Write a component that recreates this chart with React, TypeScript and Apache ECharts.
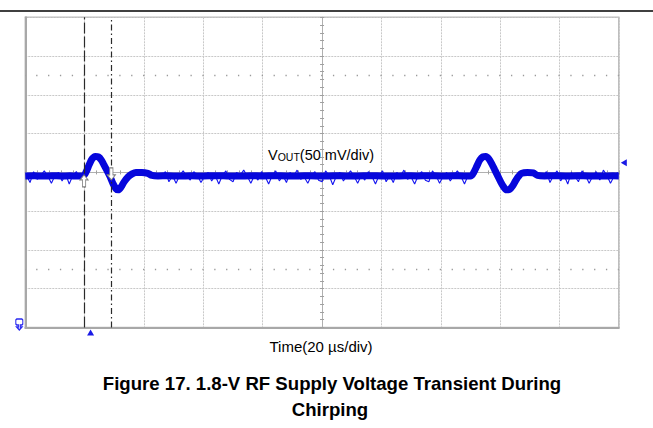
import React, { useEffect, useRef } from "react";
import * as echarts from "echarts";

// ---- Data (µs on x, mV on y; scope at 20 µs/div and 50 mV/div) ----
const timeMin = -100;
const timeMax = 100;
const timeDiv = 20;
const voltMin = -200;
const voltMax = 200;
const voltDiv = 50;

// Main (averaged) trace: [time µs, mV]
const trace: [number, number][] = [
  [-100, -4.5], [-97, -4.2], [-94, -4.8], [-91, -4.3], [-88, -4.6], [-85, -4.4],
  [-82.5, -4.6], [-80.5, -4.5], [-79.5, 0.6], [-78.5, 9.7], [-77.5, 17.4],
  [-76.4, 20.6], [-75.4, 20], [-74.4, 16.1], [-73.5, 9.7], [-72.4, 1.9],
  [-71.4, -5.8], [-70.4, -14.8], [-69.4, -21.3], [-68.7, -22.5], [-67.7, -18.7],
  [-66.7, -12.2], [-65.4, -5.8], [-64, -1.9], [-62.7, 0], [-60.7, 0],
  [-58.7, -1.3], [-57.3, -3.9], [-55.3, -4.5], [-52, -4.3], [-48, -4.7],
  [-44, -4.4], [-40, -4.6], [-36, -4.2], [-32, -4.5], [-28, -4.8], [-24, -4.4],
  [-20, -4.5], [-16, -4.3], [-12, -4.6], [-8, -4.5], [-4, -4.4], [0, -4.7],
  [4, -4.3], [8, -4.5], [12, -4.6], [16, -4.2], [20, -4.5], [24, -4.7],
  [28, -4.4], [32, -4.5], [36, -4.3], [40, -4.6], [44, -4.4], [48, -4.5],
  [50.2, -4.5], [51.2, 0.6], [52.2, 8.4], [53.2, 16.1], [54.2, 20], [55.2, 20.6],
  [56.2, 17.4], [57.2, 11], [58.2, 3.2], [59.2, -4.5], [60.2, -12.2],
  [61.2, -18.7], [62.2, -22.5], [63.2, -21.9], [64.2, -17.4], [65.2, -11],
  [66.2, -5.2], [67.2, -1.3], [69.2, 0], [71.2, -0.6], [72.6, -3.9], [75, -4.5],
  [78, -4.3], [82, -4.6], [86, -4.4], [90, -4.5], [94, -4.7], [98, -4.4], [100, -4.5],
];

// Noise samples along the flat parts (start time, sample step, values in mV)
const noiseAStart = -99.6;
const noiseAValues = [-4, -13, 1, -9, -4, 2, -5, -14, -4, 0, -11, -2, -15, -4, 1, -8];
const noiseBStart = -54;
const noiseBValues = [
  -5, 1, -12, -4, -14, -4, 2, -5, -10, 1, -4, -13, -5, 0, -11, -4, -15, -4, 2, -9,
  -12, 0, -4, 3, -5, -14, -4, -10, 1, -5, -15, -4, 2, -11, -4, -13, 0, -5, 3, -9,
  -6, -14, -4, 1, -10, -12, 2, -4, -16, -5, 0, -11, -4, 2, -5, -14, -4, -10, 1, -5,
  -15, -4, 2, -12, -4, -13, 0, -5, 3, -9, -6, -15, -4, 1, -10, -12, 2, -4, -14, -5,
  0, -11, -4, 2, -5, -15, -4,
];
const noiseCStart = 74.4;
const noiseCValues = [-5, 1, -13, -4, 2, -11, -4, -15, 0, -5, -12, 2, -4, -14, -5, 1, -10, 3, -4, -14, -5, 0];
const noiseStep = 1.2;

const cursorTimes = [-80.2, -71.0];
const triggerTime = -78;
const refLevel = 12.6;
const dotRowLevels = [125, -125];

const xTitle = "Time(20 µs/div)";
const yTitleMain = "V";
const yTitleSub = "OUT";
const yTitleRest = "(50 mV/div)";
const captionLines = ["Figure 17. 1.8-V RF Supply Voltage Transient During", "Chirping"];

const FONT = '"Liberation Sans", Arial, Helvetica, sans-serif';
const TRACE = "#0606dc";
const NOISE = "#1414f0";
const GRIDC = "#c8c8c8";
const FRAME = "#a8a8a8";

function sampled(start: number, values: number[]): [number, number][] {
  return values.map((v, i) => [start + i * noiseStep, v]);
}

export default function App() {
  const ref = useRef<HTMLDivElement>(null);

  useEffect(() => {
    if (!ref.current) return;
    const chart = echarts.init(ref.current, undefined, { renderer: "svg" });

    const centerAxisX = (position: "top" | "bottom") => ({
      type: "value",
      min: timeMin,
      max: timeMax,
      interval: timeDiv,
      position,
      axisLine: { show: true, onZero: true, onZeroAxisIndex: 0, lineStyle: { color: "#b0b0b0", width: 1 } },
      axisTick: { show: true, inside: true, length: 2, lineStyle: { color: "#a0a0a0" } },
      minorTick: { show: true, splitNumber: 5, length: 2, lineStyle: { color: "#a0a0a0" } },
      axisLabel: { show: false },
      splitLine: { show: false },
    });
    const centerAxisY = (position: "left" | "right") => ({
      type: "value",
      min: voltMin,
      max: voltMax,
      interval: voltDiv,
      position,
      axisLine: { show: true, onZero: true, onZeroAxisIndex: 0, lineStyle: { color: "#b0b0b0", width: 1 } },
      axisTick: { show: true, inside: true, length: 2, lineStyle: { color: "#a0a0a0" } },
      minorTick: { show: true, splitNumber: 5, length: 2, lineStyle: { color: "#a0a0a0" } },
      axisLabel: { show: false },
      splitLine: { show: false },
    });

    const option: any = {
      animation: false,
      backgroundColor: "#ffffff",
      grid: {
        left: 25.3,
        top: 17.3,
        width: 593.5,
        height: 310.2,
        show: true,
        borderColor: "#bcbcbc",
        borderWidth: 1.5,
        backgroundColor: "transparent",
      },
      xAxis: [
        {
          type: "value",
          min: timeMin,
          max: timeMax,
          interval: timeDiv,
          position: "bottom",
          axisLine: { show: true, onZero: false, lineStyle: { color: FRAME, width: 2 } },
          axisTick: { show: false },
          axisLabel: { show: false },
          splitLine: { show: true, lineStyle: { color: GRIDC, type: [2, 1], width: 1 } },
        },
        centerAxisX("bottom"),
        centerAxisX("top"),
      ],
      yAxis: [
        {
          type: "value",
          min: voltMin,
          max: voltMax,
          interval: voltDiv,
          position: "left",
          axisLine: { show: true, onZero: false, lineStyle: { color: FRAME, width: 2 } },
          axisTick: { show: false },
          axisLabel: { show: false },
          splitLine: { show: true, lineStyle: { color: GRIDC, type: [2, 1], width: 1 } },
        },
        centerAxisY("left"),
        centerAxisY("right"),
      ],
      series: [
        {
          type: "line",
          name: "dots",
          xAxisIndex: 0,
          yAxisIndex: 0,
          data: [],
          silent: true,
          markLine: {
            silent: true,
            symbol: ["none", "none"],
            label: { show: false },
            lineStyle: { color: "#9a9a9a", width: 1.3, type: [1.3, 10.57], dashOffset: 0.65 },
            data: dotRowLevels.map((v) => ({ yAxis: v })),
          },
        },
        ...[noiseAStart, noiseBStart, noiseCStart].map((s, i) => ({
          type: "line",
          xAxisIndex: 0,
          yAxisIndex: 0,
          data: sampled(s, [noiseAValues, noiseBValues, noiseCValues][i]),
          showSymbol: false,
          silent: true,
          z: 3,
          lineStyle: { color: NOISE, width: 1.1 },
        })),
        {
          type: "line",
          name: "VOUT",
          xAxisIndex: 0,
          yAxisIndex: 0,
          data: trace,
          smooth: 0.3,
          showSymbol: false,
          silent: true,
          z: 4,
          lineStyle: { color: TRACE, width: 7 },
          markLine: {
            silent: true,
            symbol: ["none", "none"],
            label: { show: false },
            data: [
              { xAxis: cursorTimes[0], lineStyle: { color: "#2a2a2a", width: 1.2, type: [11, 3] } },
              { xAxis: cursorTimes[1], lineStyle: { color: "#2a2a2a", width: 1.2, type: [6, 3, 1.5, 3] } },
            ],
          },
          markPoint: {
            silent: true,
            label: { show: false },
            data: [
              {
                coord: [triggerTime, voltMin],
                symbol: "triangle",
                symbolSize: [7, 6],
                symbolOffset: [0, 5],
                itemStyle: { color: "#1a1ae6" },
              },
              {
                coord: [timeMax, refLevel],
                symbol: "triangle",
                symbolSize: [7, 6],
                symbolRotate: 90,
                symbolOffset: [5, 0],
                itemStyle: { color: "#1a1ae6" },
              },
              {
                coord: [timeMin, voltMin],
                symbol:
                  "path://M1,0 L7,0 L8,1 L8,5 L7,6 L5,6 L5,8 L7,8 L4,11 L1,8 L3,8 L3,6 L1,6 L0,5 L0,1 Z",
                symbolSize: [7, 11],
                symbolOffset: [-6, -3],
                itemStyle: { color: "#ffffff", borderColor: "#2a2af0", borderWidth: 1.3 },
              },
              {
                coord: [cursorTimes[0], -4.5],
                symbol: "path://M5,0 L10,5 L7,5 L7,12 L3,12 L3,5 L0,5 Z",
                symbolSize: [8, 12],
                symbolOffset: [0, 5],
                itemStyle: { color: "#ffffff", borderColor: "#808080", borderWidth: 1 },
              },
              {
                coord: [cursorTimes[1], -4.5],
                symbol: "path://M3,0 L7,0 L7,7 L10,7 L5,12 L0,7 L3,7 Z",
                symbolSize: [8, 12],
                symbolOffset: [0, -2],
                itemStyle: { color: "#ffffff", borderColor: "#808080", borderWidth: 1 },
              },
            ],
          },
        },
      ],
      graphic: [
        {
          type: "line",
          shape: { x1: 0, y1: 11, x2: 653, y2: 11 },
          style: { stroke: "#000", lineWidth: 1.5 },
          silent: true,
        },
        {
          type: "text",
          x: 268,
          y: 154,
          z: 10,
          style: {
            text: `{v|${yTitleMain}}{s|${yTitleSub}}{v|${yTitleRest}}`,
            verticalAlign: "middle",
            rich: {
              v: { fontSize: 14.5, fontFamily: FONT, fill: "#000", lineHeight: 16, verticalAlign: "bottom" },
              s: { fontSize: 10.5, fontFamily: FONT, fill: "#000", lineHeight: 11, verticalAlign: "bottom" },
            },
          },
        },
        {
          type: "text",
          x: 321,
          y: 346,
          style: {
            text: xTitle,
            fontSize: 15,
            fontFamily: FONT,
            fill: "#000",
            align: "center",
            verticalAlign: "middle",
          },
        },
        {
          type: "text",
          x: 332,
          y: 383,
          style: {
            text: captionLines[0],
            fontSize: 18.6,
            fontWeight: "bold",
            fontFamily: FONT,
            fill: "#000",
            align: "center",
            verticalAlign: "middle",
          },
        },
        {
          type: "text",
          x: 330,
          y: 409,
          style: {
            text: captionLines[1],
            fontSize: 18.6,
            fontWeight: "bold",
            fontFamily: FONT,
            fill: "#000",
            align: "center",
            verticalAlign: "middle",
          },
        },
      ],
    };

    chart.setOption(option);
    return () => chart.dispose();
  }, []);

  return (
    <div
      ref={ref}
      style={{ position: "fixed", left: 0, top: 0, width: 653, height: 428, background: "#fff" }}
    />
  );
}
